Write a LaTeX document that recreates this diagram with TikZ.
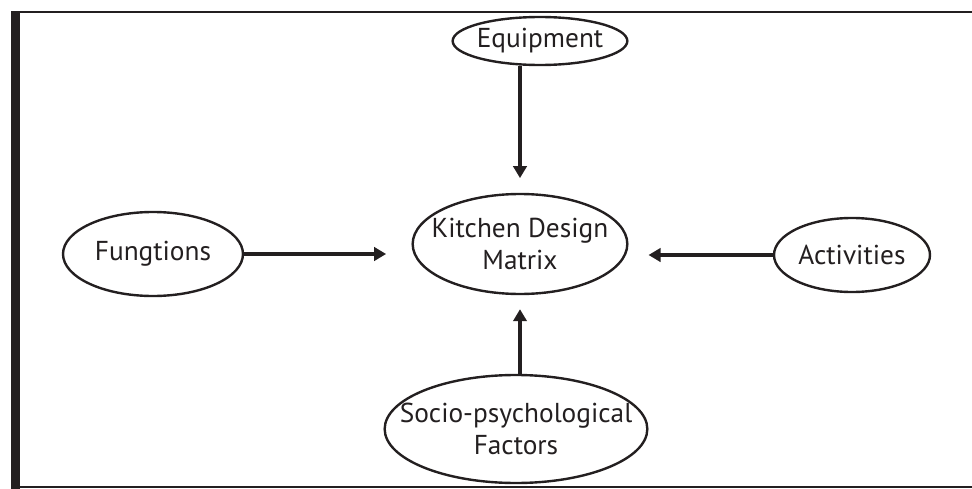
\documentclass[tikz,border=0pt]{standalone}
\usepackage{fontspec}
\setmainfont{PT Sans}
\usetikzlibrary{shapes.geometric,arrows.meta}
\definecolor{ink}{HTML}{231F20}
\tikzset{blob/.style={ellipse, draw=ink, text=ink, line width=1.8pt, inner sep=-40pt,
  align=center, font=\fontsize{20.5}{24.5}\selectfont},
link/.style={draw=ink, line width=2.5pt, -{Triangle[length=9pt,width=10pt]}}}

\begin{document}
\begin{tikzpicture}[x=0.75pt,y=-0.75pt]
        \useasboundingbox (0,0) rectangle (972,489);
        % frame
        \draw[ink, line width=1.5pt] (11,12) -- (972,12);
        \draw[ink, line width=2pt] (11,487) -- (972,487);
        \fill[ink] (11,11) rectangle (20,489);
        % nodes
        \node[blob, minimum width=161pt, minimum height=75pt] (kdm) at (520,244) {Kitchen Design\\Matrix};
        \node[blob, minimum width=131pt, minimum height=36pt] (equip) at (540,41) {Equipment};
        \node[blob, minimum width=135pt, minimum height=63pt] (fung) at (153,254) {Fungtions};
        \node[blob, minimum width=117pt, minimum height=55.5pt] (act) at (852,255) {Activities};
        \node[blob, minimum width=197pt, minimum height=81pt] (socio) at (516,429) {Socio-psychological\\Factors};
        % arrows
        \draw[link, shorten >=11pt] (equip.south -| kdm.center) -- (kdm.north);
        \draw[link, shorten >=19pt] (fung.east) -- (fung.east -| kdm.west);
        \draw[link, shorten >=15pt] (act.west) -- (act.west -| kdm.east);
        \draw[link, shorten >=10.5pt] (socio.north -| kdm.center) -- (kdm.south);
\end{tikzpicture}
\end{document}
